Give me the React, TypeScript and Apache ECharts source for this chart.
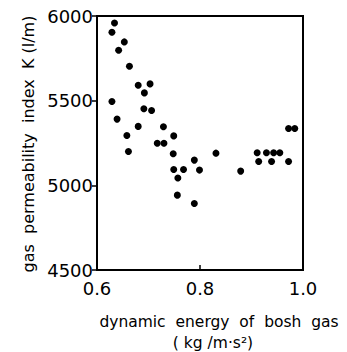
import React, { useEffect, useRef } from "react";
import * as echarts from "echarts";

const energy: number[] = [
  0.634, 0.629, 0.653, 0.642, 0.663, 0.68, 0.703, 0.692, 0.629, 0.691,
  0.706, 0.639, 0.68, 0.729, 0.658, 0.749, 0.717, 0.73, 0.661, 0.748,
  0.831, 0.789, 0.749, 0.768, 0.799, 0.757, 0.879, 0.756, 0.789,
  0.911, 0.929, 0.943, 0.955, 0.914, 0.939, 0.972, 0.972, 0.984,
];
const permeability: number[] = [
  5959, 5904, 5847, 5798, 5703, 5591, 5599, 5546, 5495, 5452,
  5442, 5391, 5348, 5346, 5294, 5292, 5249, 5249, 5200, 5186,
  5190, 5149, 5094, 5094, 5090, 5043, 5084, 4942, 4893,
  5192, 5192, 5192, 5192, 5141, 5141, 5141, 5336, 5336,
];
const yTicks: number[] = [4500, 5000, 5500, 6000];
const xTicks: number[] = [0.6, 0.8, 1.0];
const yTitle = "gas  permeability  index  K (l/m)";
const xTitle1 = "dynamic  energy  of  bosh  gas";
const xTitle2 = "( kg /m·s²)";

export default function App() {
  const ref = useRef<HTMLDivElement>(null);
  useEffect(() => {
    if (!ref.current) return;
    const chart = echarts.init(ref.current, undefined, { renderer: "svg" });
    const font = "DejaVu Sans";
    chart.setOption({
      animation: false,
      backgroundColor: "#fff",
      grid: {
        left: 97,
        top: 16,
        width: 206,
        height: 254,
        show: true,
        borderColor: "#000",
        borderWidth: 2,
        backgroundColor: "transparent",
      },
      xAxis: {
        type: "value",
        min: xTicks[0],
        max: xTicks[xTicks.length - 1],
        interval: 0.2,
        splitLine: { show: false },
        axisLine: { show: true, lineStyle: { color: "#000", width: 2 } },
        axisTick: { show: true, inside: true, length: 5, lineStyle: { color: "#000", width: 1.5 } },
        axisLabel: {
          color: "#000",
          fontFamily: font,
          fontSize: 18,
          margin: 9,
          formatter: (v: number) => v.toFixed(1),
        },
      },
      yAxis: {
        type: "value",
        min: yTicks[0],
        max: yTicks[yTicks.length - 1],
        interval: 500,
        splitLine: { show: false },
        axisLine: { show: true, lineStyle: { color: "#000", width: 2 } },
        axisTick: { show: true, inside: false, length: 5, lineStyle: { color: "#000", width: 1.5 } },
        axisLabel: {
          color: "#000",
          fontFamily: font,
          fontSize: 18,
          margin: 4,
          formatter: (v: number) => String(v),
        },
      },
      series: [
        {
          type: "scatter",
          symbol: "circle",
          symbolSize: 7,
          itemStyle: { color: "#000", opacity: 1 },
          data: energy.map((x, i) => [x, permeability[i]]),
        },
      ],
      graphic: [
        {
          type: "text",
          x: 28,
          y: 144,
          rotation: Math.PI / 2,
          style: {
            text: yTitle,
            fill: "#000",
            font: `16px "${font}"`,
            align: "center",
            verticalAlign: "middle",
          },
        },
        {
          type: "text",
          x: 219,
          y: 322,
          style: {
            text: xTitle1,
            fill: "#000",
            font: `15.5px "${font}"`,
            align: "center",
            verticalAlign: "middle",
          },
        },
        {
          type: "text",
          x: 213,
          y: 343,
          style: {
            text: xTitle2,
            fill: "#000",
            font: `15.5px "${font}"`,
            align: "center",
            verticalAlign: "middle",
          },
        },
      ],
    });
    return () => chart.dispose();
  }, []);
  return <div ref={ref} style={{ width: 347, height: 352, position: "absolute", left: 0, top: 0 }} />;
}
